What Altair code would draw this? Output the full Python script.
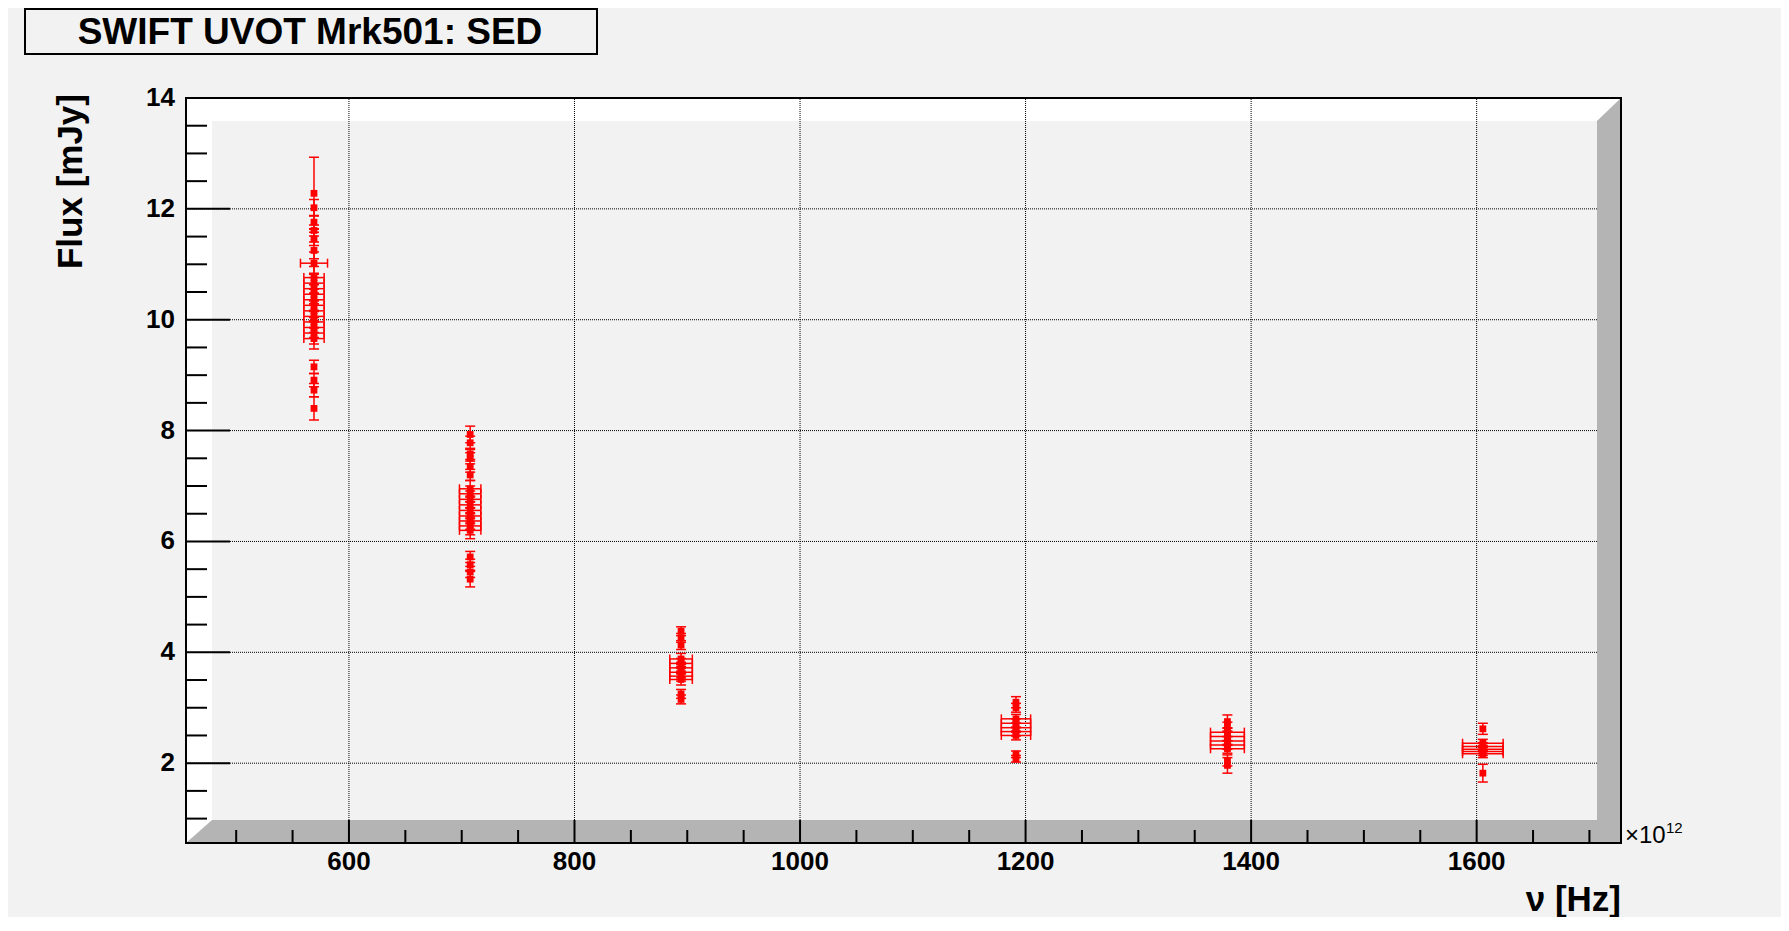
import altair as alt
import pandas as pd

# ---------------- texts ----------------
TITLE = "SWIFT UVOT Mrk501: SED"
X_TITLE = "ν [Hz]"
Y_TITLE = "Flux [mJy]"
X_EXP_BASE = "×10"
X_EXP = "12"

# ---------------- data (frequency in 10^12 Hz, flux in mJy) ----------------
FILTER_NAMES = ["V", "B", "U", "UVW1", "UVM2", "UVW2"]
FILTER_NU = [569.0, 707.5, 894.5, 1191.5, 1379.0, 1605.5]

V_FLUX = [12.28, 12.02, 11.76, 11.61, 11.46, 11.25, 11.02, 10.76, 10.66, 10.56, 10.46, 10.36,
          10.26, 10.16, 10.06, 9.96, 9.86, 9.76, 9.66, 9.15, 8.91, 8.73, 8.40]
V_FLUX_ERR = [0.65, 0.15, 0.12, 0.10, 0.12, 0.15, 0.20, 0.20, 0.18, 0.20, 0.17, 0.19,
              0.21, 0.18, 0.20, 0.19, 0.18, 0.20, 0.19, 0.12, 0.12, 0.12, 0.21]
V_NU_ERR = [0, 0, 0, 0, 0, 0, 12, 9, 9, 9, 9, 9, 9, 9, 9, 9, 9, 9, 9, 0, 0, 0, 0]

B_FLUX = [7.93, 7.78, 7.58, 7.50, 7.35, 7.20, 6.95, 6.86, 6.76, 6.66, 6.56, 6.46, 6.37,
          6.28, 6.20, 5.72, 5.58, 5.45, 5.32]
B_FLUX_ERR = [0.15, 0.12, 0.10, 0.10, 0.10, 0.10, 0.15, 0.14, 0.15, 0.16, 0.15, 0.14, 0.15,
              0.16, 0.15, 0.10, 0.10, 0.10, 0.14]
B_NU_ERR = [0, 0, 0, 0, 0, 0, 9.5, 9.5, 9.5, 9.5, 9.5, 9.5, 9.5, 9.5, 9.5, 0, 0, 0, 0]

U_FLUX = [4.38, 4.26, 4.13, 3.88, 3.80, 3.72, 3.64, 3.57, 3.51, 3.25, 3.15]
U_FLUX_ERR = [0.08, 0.08, 0.08, 0.10, 0.09, 0.10, 0.10, 0.09, 0.10, 0.08, 0.08]
U_NU_ERR = [0, 0, 0, 10, 10, 10, 10, 10, 10, 0, 0]

W1_FLUX = [3.10, 3.00, 2.80, 2.72, 2.64, 2.57, 2.50, 2.16, 2.08]
W1_FLUX_ERR = [0.10, 0.08, 0.08, 0.08, 0.08, 0.08, 0.08, 0.06, 0.06]
W1_NU_ERR = [0, 0, 13, 13, 13, 13, 13, 0, 0]

M2_FLUX = [2.75, 2.66, 2.56, 2.48, 2.40, 2.33, 2.26, 2.05, 1.96]
M2_FLUX_ERR = [0.12, 0.08, 0.08, 0.08, 0.08, 0.08, 0.08, 0.10, 0.14]
M2_NU_ERR = [0, 0, 15, 15, 15, 15, 15, 0, 0]

W2_FLUX = [2.62, 2.36, 2.30, 2.25, 2.21, 2.17, 1.82]
W2_FLUX_ERR = [0.10, 0.07, 0.07, 0.07, 0.07, 0.07, 0.16]
W2_NU_ERR = [0, 18, 18, 18, 18, 18, 0]

# ---------------- axes ----------------
X_MAJOR = [600, 800, 1000, 1200, 1400, 1600]
X_MINOR = [500, 550, 650, 700, 750, 850, 900, 950, 1050, 1100, 1150, 1250, 1300, 1350,
           1450, 1500, 1550, 1650, 1700]
Y_MAJOR = [2, 4, 6, 8, 10, 12, 14]
Y_MINOR = [1, 1.5, 2.5, 3, 3.5, 4.5, 5, 5.5, 6.5, 7, 7.5, 8.5, 9, 9.5, 10.5, 11, 11.5,
           12.5, 13, 13.5]
X_DOMAIN = [455.5, 1728.0]
Y_DOMAIN = [0.56, 14.0]

# ---------------- layout / style ----------------
W, H = 1435, 745
PAD_L, PAD_T = 178, 90
PAD_R = 1773 - PAD_L - W
PAD_B = 909 - PAD_T - H

BG = "#f2f2f2"
LIGHT = "#ffffff"
DARK = "#b4b4b4"
RED = "#ff0000"
FONT = "Liberation Sans"

XMIN, XMAX = X_DOMAIN
YMIN, YMAX = Y_DOMAIN
PX_X = W / (XMAX - XMIN)
PX_Y = H / (YMAX - YMIN)
B_LEFT = 26 / PX_X
B_RIGHT = 24 / PX_X
B_TOP = 23 / PX_Y
B_BOTTOM = 23 / PX_Y

XS = alt.Scale(domain=X_DOMAIN, zero=False, nice=False)
YS = alt.Scale(domain=Y_DOMAIN, zero=False, nice=False)

# ---------------- build data table ----------------
rows = []
for name, nu, fl, fe, ne in zip(
        FILTER_NAMES, FILTER_NU,
        [V_FLUX, B_FLUX, U_FLUX, W1_FLUX, M2_FLUX, W2_FLUX],
        [V_FLUX_ERR, B_FLUX_ERR, U_FLUX_ERR, W1_FLUX_ERR, M2_FLUX_ERR, W2_FLUX_ERR],
        [V_NU_ERR, B_NU_ERR, U_NU_ERR, W1_NU_ERR, M2_NU_ERR, W2_NU_ERR]):
    for f, e, n in zip(fl, fe, ne):
        rows.append({"filter": name, "nu": nu, "nu_err": n, "flux": f, "flux_err": e})
df = pd.DataFrame(rows)

# ---------------- frame (ROOT-like 3D box) ----------------
left_band = alt.Chart(pd.DataFrame({"x0": [XMIN], "x1": [XMIN + B_LEFT],
                                    "y0": [YMIN], "y1": [YMAX]})).mark_rect(
    color=LIGHT).encode(
    x=alt.X("x0:Q", scale=XS, axis=None), x2="x1:Q",
    y=alt.Y("y0:Q", scale=YS, axis=None), y2="y1:Q")

top_band = alt.Chart(pd.DataFrame({
    "x": [XMIN, XMAX - B_RIGHT, XMAX],
    "y0": [YMAX, YMAX, YMAX],
    "y1": [YMAX - B_TOP, YMAX - B_TOP, YMAX]})).mark_area(
    color=LIGHT, orient="vertical", opacity=1).encode(
    x=alt.X("x:Q", scale=XS, axis=None),
    y=alt.Y("y0:Q", scale=YS, axis=None), y2="y1:Q")

vgrid = alt.Chart(pd.DataFrame({"x": X_MAJOR})).transform_calculate(
    y0=str(YMIN + B_BOTTOM), y1=str(YMAX)).mark_rule(
    color="black", strokeWidth=1, strokeDash=[1, 1]).encode(
    x=alt.X("x:Q", scale=XS, axis=None),
    y=alt.Y("y0:Q", scale=YS, axis=None), y2="y1:Q")

hgrid = alt.Chart(pd.DataFrame({"y": Y_MAJOR})).transform_calculate(
    x0=str(XMIN), x1=str(XMAX - B_RIGHT)).mark_rule(
    color="black", strokeWidth=1, strokeDash=[1, 1]).encode(
    y=alt.Y("y:Q", scale=YS, axis=None),
    x=alt.X("x0:Q", scale=XS, axis=None), x2="x1:Q")

floor = alt.Chart(pd.DataFrame({
    "x": [XMIN, XMIN + B_LEFT, XMAX],
    "y0": [YMIN, YMIN, YMIN],
    "y1": [YMIN, YMIN + B_BOTTOM, YMIN + B_BOTTOM]})).mark_area(
    color=DARK, orient="vertical", opacity=1).encode(
    x=alt.X("x:Q", scale=XS, axis=None),
    y=alt.Y("y0:Q", scale=YS, axis=None), y2="y1:Q")

wall = alt.Chart(pd.DataFrame({
    "y": [YMIN, YMAX - B_TOP, YMAX],
    "x0": [XMAX, XMAX, XMAX],
    "x1": [XMAX - B_RIGHT, XMAX - B_RIGHT, XMAX]})).mark_area(
    color=DARK, orient="horizontal", opacity=1).encode(
    y=alt.Y("y:Q", scale=YS, axis=None),
    x=alt.X("x0:Q", scale=XS, axis=None), x2="x1:Q")

frame = alt.Chart(pd.DataFrame({"x0": [XMIN], "x1": [XMAX],
                                "y0": [YMIN], "y1": [YMAX]})).mark_rect(
    filled=False, stroke="black", strokeWidth=2).encode(
    x=alt.X("x0:Q", scale=XS, axis=None), x2="x1:Q",
    y=alt.Y("y0:Q", scale=YS, axis=None), y2="y1:Q")

xtick_major = alt.Chart(pd.DataFrame({"x": X_MAJOR})).transform_calculate(
    y0=str(YMIN), y1=str(YMIN + B_BOTTOM)).mark_rule(
    color="black", strokeWidth=2).encode(
    x=alt.X("x:Q", scale=XS, axis=None),
    y=alt.Y("y0:Q", scale=YS, axis=None), y2="y1:Q")

xtick_minor = alt.Chart(pd.DataFrame({"x": X_MINOR})).transform_calculate(
    y0=str(YMIN), y1=str(YMIN + 13 / PX_Y)).mark_rule(
    color="black", strokeWidth=2).encode(
    x=alt.X("x:Q", scale=XS, axis=None),
    y=alt.Y("y0:Q", scale=YS, axis=None), y2="y1:Q")

ytick_major = alt.Chart(pd.DataFrame({"y": Y_MAJOR})).transform_calculate(
    x0=str(XMIN), x1=str(XMIN + 44 / PX_X)).mark_rule(
    color="black", strokeWidth=2).encode(
    y=alt.Y("y:Q", scale=YS, axis=None),
    x=alt.X("x0:Q", scale=XS, axis=None), x2="x1:Q")

ytick_minor = alt.Chart(pd.DataFrame({"y": Y_MINOR})).transform_calculate(
    x0=str(XMIN), x1=str(XMIN + 21 / PX_X)).mark_rule(
    color="black", strokeWidth=2).encode(
    y=alt.Y("y:Q", scale=YS, axis=None),
    x=alt.X("x0:Q", scale=XS, axis=None), x2="x1:Q")

# ---------------- tick labels and axis titles ----------------
xlabels = alt.Chart(pd.DataFrame({"v": X_MAJOR, "lbl": [str(v) for v in X_MAJOR]})).mark_text(
    font=FONT, fontSize=26, fontWeight="bold", color="black",
    align="center", baseline="top").encode(
    x=alt.X("v:Q", scale=XS, axis=None), y=alt.value(H + 6), text="lbl:N")

ylabels = alt.Chart(pd.DataFrame({"v": Y_MAJOR, "lbl": [str(v) for v in Y_MAJOR]})).mark_text(
    font=FONT, fontSize=26, fontWeight="bold", color="black",
    align="right", baseline="middle").encode(
    y=alt.Y("v:Q", scale=YS, axis=None), x=alt.value(-11), text="lbl:N")

titles_df = pd.DataFrame({"xt": [X_TITLE], "yt": [Y_TITLE]})
xtitle = alt.Chart(titles_df).mark_text(
    font=FONT, fontSize=35, fontWeight="bold", color="black",
    align="right", baseline="alphabetic").encode(
    x=alt.value(W), y=alt.value(H + 68), text="xt:N")
ytitle = alt.Chart(titles_df).mark_text(
    font=FONT, fontSize=35, fontWeight="bold", color="black", angle=270,
    align="right", baseline="alphabetic").encode(
    x=alt.value(-104), y=alt.value(-4), text="yt:N")

# ---------------- data marks ----------------
base = alt.Chart(df)

xerr = base.transform_filter("datum.nu_err > 0").transform_calculate(
    lo="datum.nu - datum.nu_err", hi="datum.nu + datum.nu_err").mark_rule(
    color=RED, strokeWidth=1.5).encode(
    x=alt.X("lo:Q", scale=XS, axis=None), x2="hi:Q",
    y=alt.Y("flux:Q", scale=YS, axis=None))

xcap = base.transform_filter("datum.nu_err > 0").transform_calculate(
    lo="datum.nu - datum.nu_err", hi="datum.nu + datum.nu_err").transform_fold(
    ["lo", "hi"], as_=["end", "xv"]).mark_tick(
    color=RED, orient="vertical", size=9, thickness=1.5, opacity=1).encode(
    x=alt.X("xv:Q", scale=XS, axis=None),
    y=alt.Y("flux:Q", scale=YS, axis=None))

yerr = base.transform_calculate(
    ylo="datum.flux - datum.flux_err", yhi="datum.flux + datum.flux_err").mark_rule(
    color=RED, strokeWidth=1.5).encode(
    x=alt.X("nu:Q", scale=XS, axis=None),
    y=alt.Y("ylo:Q", scale=YS, axis=None), y2="yhi:Q")

ycap = base.transform_calculate(
    ylo="datum.flux - datum.flux_err", yhi="datum.flux + datum.flux_err").transform_fold(
    ["ylo", "yhi"], as_=["end", "yv"]).mark_tick(
    color=RED, orient="horizontal", size=10, thickness=1.5, opacity=1).encode(
    x=alt.X("nu:Q", scale=XS, axis=None),
    y=alt.Y("yv:Q", scale=YS, axis=None))

points = base.mark_square(size=46, color=RED, opacity=1).encode(
    x=alt.X("nu:Q", scale=XS, axis=None),
    y=alt.Y("flux:Q", scale=YS, axis=None),
    tooltip=["filter:N", "nu:Q", "flux:Q", "flux_err:Q"])

# ---------------- title box and exponent ----------------
title_df = pd.DataFrame({"t": [TITLE]})
title_box = alt.Chart(title_df).mark_rect(fill=BG, stroke="black", strokeWidth=2).encode(
    x=alt.value(-161), x2=alt.value(411), y=alt.value(-89), y2=alt.value(-44))
title_text = alt.Chart(title_df).mark_text(
    font=FONT, fontSize=37, fontWeight="bold", color="black",
    align="center", baseline="alphabetic").encode(
    x=alt.value(124), y=alt.value(-54), text="t:N")

exp_df = pd.DataFrame({"b": [X_EXP_BASE], "e": [X_EXP]})
exp_base = alt.Chart(exp_df).mark_text(
    font=FONT, fontSize=24, color="black", align="left", baseline="alphabetic").encode(
    x=alt.value(W + 4), y=alt.value(H), text="b:N")
exp_sup = alt.Chart(exp_df).mark_text(
    font=FONT, fontSize=15, color="black", align="left", baseline="alphabetic").encode(
    x=alt.value(W + 45), y=alt.value(H - 10), text="e:N")

chart = alt.layer(
    left_band, top_band, vgrid, hgrid, floor, wall, frame,
    xtick_major, xtick_minor, ytick_major, ytick_minor,
    xerr, xcap, yerr, ycap, points,
    xlabels, ylabels, xtitle, ytitle,
    title_box, title_text, exp_base, exp_sup,
).properties(
    width=W, height=H,
    padding={"left": PAD_L, "top": PAD_T, "right": PAD_R, "bottom": PAD_B},
    autosize=alt.AutoSizeParams(type="none"),
    background=BG,
).configure_view(strokeWidth=0)

chart.save("out.html", embed_options={"renderer": "svg", "actions": False})
